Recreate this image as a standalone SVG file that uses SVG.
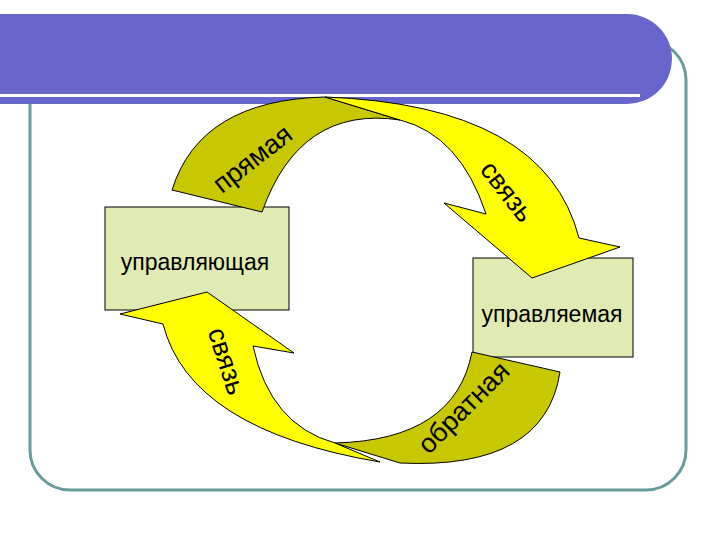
<svg xmlns="http://www.w3.org/2000/svg" width="720" height="540" viewBox="0 0 720 540">
<style>
.box{fill:#e0ebb4;stroke:#000;stroke-width:1}
.dk{fill:#c8c800;stroke:#000;stroke-width:1}
.yl{fill:#ffff00;stroke:#000;stroke-width:1}
text{font-family:"Liberation Sans",Arial,sans-serif;fill:#000}
</style>
<rect width="720" height="540" fill="#fff"/>
<rect x="30" y="40" width="656" height="450" rx="40" fill="#fff" stroke="#6a9c9c" stroke-width="3"/>
<path d="M0,14 H627 A45,45 0 0 1 627,104 H0 Z" fill="#6666cc"/>
<rect x="0" y="94" width="640" height="3" fill="#fff"/>
<g id="n1"><rect class="box" x="105" y="207" width="184" height="103"/><text x="195" y="270" font-size="23" text-anchor="middle">управляющая</text></g>
<g id="n2"><rect class="box" x="473" y="258" width="160" height="99"/><text x="552" y="322" font-size="23" text-anchor="middle">управляемая</text></g>
<g id="arrows">
<path class="dk" d="M172,190 Q200,100 325,97 L400,120 Q300,105 262,212 Z"/>
<path class="yl" d="M325,97 Q545,105 579,238 L620,247 L532,278 L444,203 L486,214 Q460,135 400,120 Z"/>
<path class="dk" d="M560,372 Q545,470 400,463 L335,443 Q455,440 472,352 Z"/>
<path class="yl" d="M380,462 Q190,430 163,324 L120,314 L207,292 L294,353 L253,346 Q270,425 335,443 Z"/>
</g>
<text x="258" y="166" font-size="27" text-anchor="middle" transform="rotate(-38 258 166)">прямая</text>
<text x="500" y="197" font-size="27" text-anchor="middle" transform="rotate(52 500 197)">связь</text>
<text x="218" y="364" font-size="27" text-anchor="middle" transform="rotate(72 218 364)">связь</text>
<text x="470" y="414" font-size="27" text-anchor="middle" transform="rotate(-45 470 414)">обратная</text>
</svg>
